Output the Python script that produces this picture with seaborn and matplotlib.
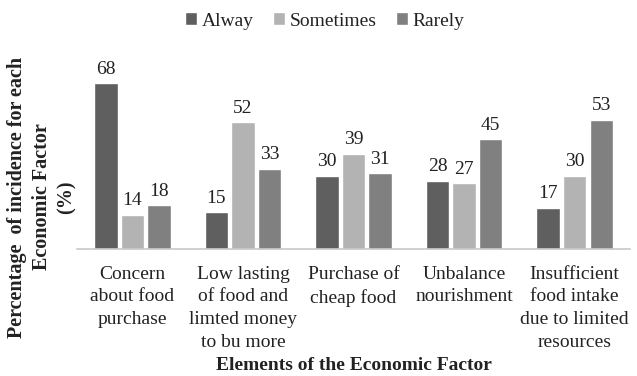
import matplotlib
matplotlib.use("Agg")
import matplotlib.pyplot as plt
import seaborn as sns
import pandas as pd

categories = [
    "Concern\nabout food\npurchase",
    "Low lasting\nof food and\nlimted money\nto bu more",
    "Purchase of\ncheap food",
    "Unbalance\nnourishment",
    "Insufficient\nfood intake\ndue to limited\nresources",
]
series = ["Alway", "Sometimes", "Rarely"]
alway = [68, 15, 30, 28, 17]
sometimes = [14, 52, 39, 27, 30]
rarely = [18, 33, 31, 45, 53]
colors = ["#5f5f5f", "#b3b3b3", "#808080"]

rows = []
for vals, name in zip([alway, sometimes, rarely], series):
    for c, v in zip(categories, vals):
        rows.append({"cat": c, "series": name, "value": v})
df = pd.DataFrame(rows)

sns.set_style("white")
SERIF = ["Liberation Serif", "DejaVu Serif"]
plt.rcParams["font.family"] = SERIF
plt.rcParams["font.serif"] = SERIF
TXT = "#222222"

fig = plt.figure(figsize=(6.37, 3.76), dpi=100)
ax = fig.add_axes([0.121, 0.338, 0.868, 0.518])

sns.barplot(data=df, x="cat", y="value", hue="series", order=categories,
            hue_order=series, palette=colors, width=0.72, gap=0.12,
            saturation=1, ax=ax, errorbar=None, legend=True)

for cont in ax.containers:
    ax.bar_label(cont, labels=[f"{int(v)}" for v in cont.datavalues],
                 padding=4, fontsize=14, family=SERIF, color=TXT)

ax.set_ylim(0, 80)
ax.set_yticks([])
ax.set_ylabel("")
ax.set_xlabel("")
ax.set_xticks(range(len(categories)))
ax.set_xticklabels(categories, fontfamily="Liberation Serif", fontsize=14,
                   linespacing=1.45, color=TXT)
ax.tick_params(axis="x", length=0, pad=12)

fig.text(0.5 * (77 + 630) / 637, 1 - 366 / 376, "Elements of the Economic Factor",
         ha="center", va="center", fontsize=14, fontweight="bold",
         family="Liberation Serif", color=TXT)
fig.text(42 / 637, 1 - 197 / 376,
         "Percentage  of incidence for each\nEconomic Factor\n(%)",
         ha="center", va="center", rotation=90, fontsize=14.5, fontweight="bold",
         family="Liberation Serif", linespacing=1.3, color=TXT)

for s in ["top", "right", "left"]:
    ax.spines[s].set_visible(False)
ax.spines["bottom"].set_color("#c8c8c8")
ax.spines["bottom"].set_linewidth(1.2)

leg = ax.legend(loc="center", bbox_to_anchor=(325 / 637, 1 - 21 / 376),
                bbox_transform=fig.transFigure, ncol=3, frameon=False,
                prop={"family": "Liberation Serif", "size": 14}, handlelength=0.6,
                handleheight=0.6, handletextpad=0.25, columnspacing=1.0)
for t in leg.get_texts():
    t.set_color(TXT)

fig.savefig("out.png", dpi=100)
